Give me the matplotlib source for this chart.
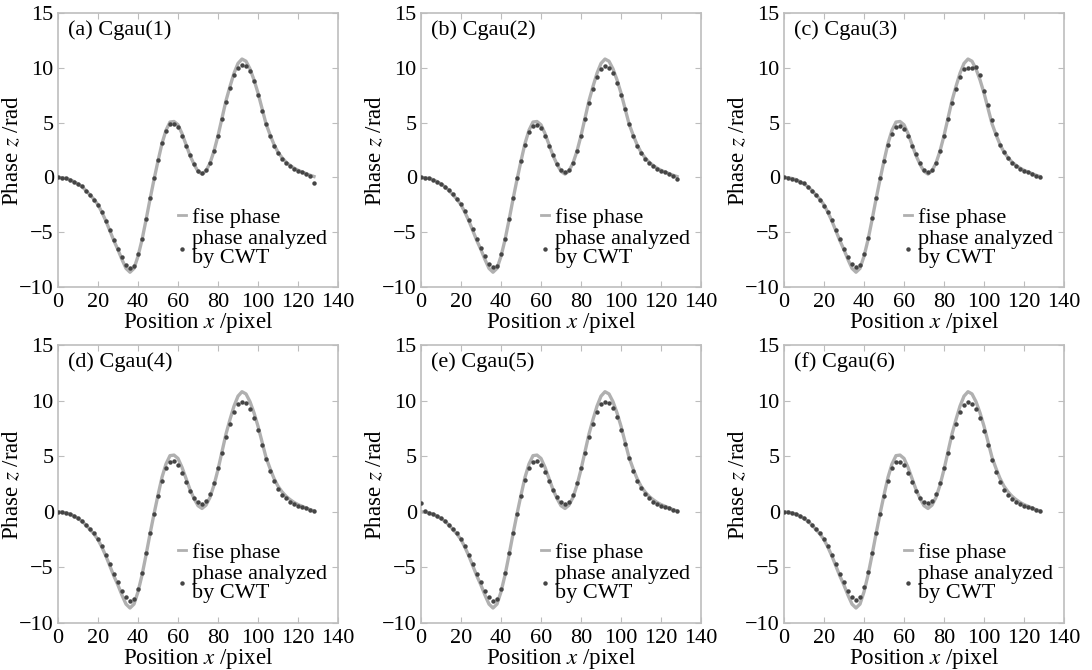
import numpy as np
import matplotlib
matplotlib.use('Agg')
from matplotlib import pyplot as plt
from matplotlib.lines import Line2D

plt.rcParams['font.family'] = ['Liberation Serif', 'DejaVu Serif']
plt.rcParams['mathtext.fontset'] = 'stix'

# sample positions (pixel index), every 2 pixels
pos = np.arange(0, 129, 2)

# theoretical ("fise") phase
true_phase = [0.0, -0.03, -0.1, -0.2, -0.38, -0.6, -0.85, -1.2, -1.6, -2.0,
              -2.5, -3.2, -4.0, -4.9, -5.8, -6.6, -7.5, -8.3, -8.65, -8.3,
              -7.2, -5.7, -3.9, -2.0, -0.2, 1.5, 3.1, 4.3, 5.05, 5.1,
              4.8, 4.0, 3.0, 2.0, 1.2, 0.55, 0.3, 0.6, 1.3, 2.4,
              3.8, 5.4, 7.0, 8.3, 9.5, 10.4, 10.8, 10.6, 9.9, 8.9,
              7.7, 6.3, 4.9, 3.9, 3.0, 2.3, 1.8, 1.4, 1.1, 0.85,
              0.65, 0.5, 0.35, 0.2, 0.08]

# phase recovered by CWT with each wavelet
cwt_cgau1 = [0.0, -0.05, -0.1, -0.25, -0.4, -0.6, -0.8, -1.2, -1.6, -2.1,
             -2.5, -3.2, -3.95, -4.8, -5.7, -6.5, -7.3, -7.95, -8.25, -8.1,
             -7.0, -5.6, -3.8, -1.9, -0.1, 1.6, 3.1, 4.2, 4.85, 4.9,
             4.6, 3.8, 2.9, 2.0, 1.2, 0.6, 0.4, 0.65, 1.3, 2.4,
             3.8, 5.3, 6.9, 8.2, 9.3, 10.0, 10.3, 10.2, 9.7, 8.8,
             7.5, 6.1, 4.9, 3.8, 2.9, 2.2, 1.7, 1.3, 1.0, 0.8,
             0.6, 0.45, 0.3, 0.1, -0.5]
cwt_cgau2 = [0.0, -0.03, -0.1, -0.2, -0.38, -0.6, -0.85, -1.15, -1.55, -2.0,
             -2.45, -3.1, -3.9, -4.75, -5.6, -6.4, -7.2, -7.9, -8.2, -8.05,
             -7.0, -5.6, -3.8, -1.9, -0.1, 1.5, 3.0, 4.1, 4.7, 4.8,
             4.5, 3.8, 2.9, 2.0, 1.2, 0.65, 0.45, 0.7, 1.35, 2.4,
             3.8, 5.3, 6.8, 8.1, 9.2, 9.9, 10.15, 10.0, 9.5, 8.6,
             7.5, 6.2, 4.9, 3.8, 2.9, 2.2, 1.7, 1.3, 1.0, 0.8,
             0.6, 0.45, 0.3, 0.1, -0.15]
cwt_cgau3 = [0.0, -0.1, -0.15, -0.25, -0.4, -0.55, -0.85, -1.2, -1.6, -2.1,
             -2.6, -3.2, -3.9, -4.8, -5.6, -6.5, -7.3, -7.9, -8.15, -8.0,
             -7.0, -5.5, -3.7, -1.9, -0.1, 1.5, 3.0, 4.0, 4.6, 4.7,
             4.4, 3.8, 2.9, 2.1, 1.3, 0.7, 0.5, 0.7, 1.35, 2.4,
             3.8, 5.3, 6.8, 8.1, 9.2, 9.9, 10.0, 10.0, 10.1, 9.3,
             7.9, 6.6, 5.2, 4.0, 3.0, 2.3, 1.8, 1.35, 1.0, 0.8,
             0.6, 0.45, 0.3, 0.15, 0.0]
cwt_cgau4 = [0.0, -0.03, -0.1, -0.2, -0.37, -0.58, -0.83, -1.15, -1.55, -1.95,
             -2.45, -3.1, -3.85, -4.7, -5.55, -6.35, -7.1, -7.7, -8.0, -7.8,
             -6.9, -5.5, -3.7, -1.9, -0.2, 1.4, 2.8, 3.9, 4.45, 4.55,
             4.2, 3.5, 2.7, 1.9, 1.25, 0.85, 0.7, 0.95, 1.6, 2.6,
             3.9, 5.3, 6.7, 7.9, 9.0, 9.65, 9.9, 9.75, 9.25, 8.45,
             7.35, 6.05, 4.75, 3.65, 2.75, 2.05, 1.55, 1.2, 0.9, 0.7,
             0.55, 0.4, 0.3, 0.18, 0.08]
cwt_cgau5 = [0.75, 0.05, -0.1, -0.2, -0.37, -0.58, -0.83, -1.15, -1.55, -1.95,
             -2.45, -3.1, -3.85, -4.7, -5.55, -6.35, -7.1, -7.7, -8.0, -7.85,
             -6.9, -5.5, -3.7, -1.9, -0.2, 1.4, 2.85, 3.95, 4.5, 4.6,
             4.25, 3.55, 2.75, 1.95, 1.3, 0.85, 0.7, 0.9, 1.55, 2.6,
             3.9, 5.3, 6.7, 7.9, 9.0, 9.65, 9.9, 9.8, 9.3, 8.5,
             7.4, 6.1, 4.8, 3.7, 2.8, 2.1, 1.6, 1.2, 0.9, 0.7,
             0.55, 0.4, 0.3, 0.18, 0.1]
cwt_cgau6 = [0.0, -0.03, -0.1, -0.2, -0.37, -0.58, -0.83, -1.15, -1.55, -1.95,
             -2.45, -3.1, -3.85, -4.7, -5.55, -6.35, -7.1, -7.7, -7.95, -7.7,
             -6.8, -5.4, -3.7, -1.9, -0.2, 1.4, 2.8, 3.9, 4.45, 4.5,
             4.2, 3.5, 2.7, 1.9, 1.25, 0.85, 0.75, 0.95, 1.6, 2.6,
             3.9, 5.3, 6.7, 7.9, 9.0, 9.6, 9.85, 9.7, 9.2, 8.4,
             7.3, 6.0, 4.7, 3.6, 2.7, 2.0, 1.5, 1.15, 0.9, 0.7,
             0.55, 0.4, 0.3, 0.18, 0.08]

panel_titles = ['(a) Cgau(1)', '(b) Cgau(2)', '(c) Cgau(3)',
                '(d) Cgau(4)', '(e) Cgau(5)', '(f) Cgau(6)']
cwt_all = [cwt_cgau1, cwt_cgau2, cwt_cgau3, cwt_cgau4, cwt_cgau5, cwt_cgau6]

xticks = [0, 20, 40, 60, 80, 100, 120, 140]
yticks = [-10, -5, 0, 5, 10, 15]

line_col = '#b0b0b0'
dot_col = '#454545'
frame_col = '#bdbdbd'

fig = plt.figure(figsize=(10.92, 6.70), dpi=100)
W, H = 1092.0, 670.0
lefts = [58, 421, 784]
rows = [(13, 287), (345, 623)]

for k in range(6):
    r, c = divmod(k, 3)
    top, bot = rows[r]
    ax = fig.add_axes([lefts[c] / W, 1 - bot / H, 280 / W, (bot - top) / H])
    ax.plot(pos, true_phase, color=line_col, lw=2.4, zorder=2)
    ax.plot(pos, cwt_all[k], linestyle='none', marker='o', ms=3.2,
            color=dot_col, mec='none', zorder=3)
    ax.set_xlim(0, 140)
    ax.set_ylim(-10, 15)
    ax.set_xticks(xticks)
    ax.set_yticks(yticks)
    ax.tick_params(direction='in', length=4, color=frame_col, labelsize=16,
                   top=True, right=True)
    ax.tick_params(axis='x', pad=4)
    ax.tick_params(axis='y', pad=3)
    for s in ax.spines.values():
        s.set_color(frame_col)
        s.set_linewidth(1.2)
    ax.set_xlabel(r'Position $x$ /pixel', fontsize=16.5, labelpad=-1)
    ax.set_ylabel(r'Phase $z$ /rad', fontsize=16.5, labelpad=-3)
    ax.text(0.035, 0.975, panel_titles[k], transform=ax.transAxes,
            fontsize=16, va='top', ha='left')
    handles = [Line2D([], [], color=line_col, lw=2.0),
               Line2D([], [], linestyle='none', marker='o', ms=3.2,
                      color=dot_col, mec='none')]
    leg = ax.legend(handles, ['fise phase', 'phase analyzed\nby CWT'],
                    loc='upper left', bbox_to_anchor=(0.43, 0.29),
                    frameon=False, fontsize=16, handlelength=0.35,
                    handletextpad=0.25, labelspacing=0.1, borderpad=0,
                    borderaxespad=0)
    for t in leg.get_texts():
        t.set_linespacing(1.0)

fig.savefig('out.png', dpi=100)
